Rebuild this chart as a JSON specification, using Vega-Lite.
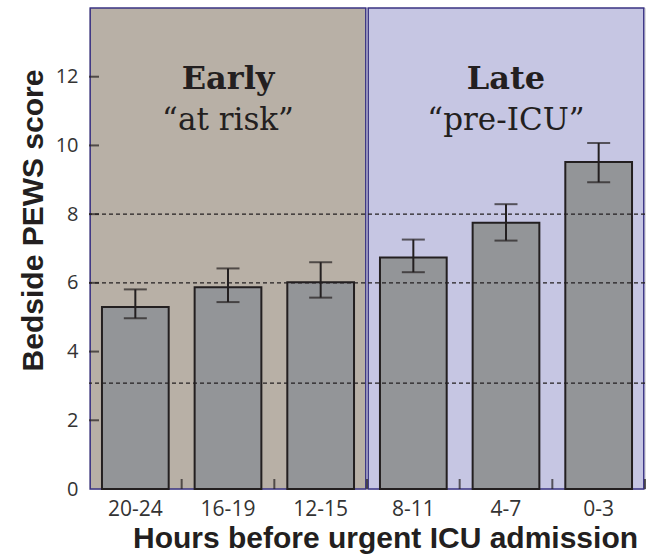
{
  "$schema": "https://vega.github.io/schema/vega-lite/v6.json",
  "width": 556,
  "height": 481,
  "autosize": {"type": "none"},
  "padding": {"left": 89, "top": 8, "right": 2, "bottom": 67},
  "background": "white",
  "datasets": {
    "regions": [
      {"region": "Early", "sub": "“at risk”", "start": 0, "end": 3, "mid": 1.5},
      {"region": "Late", "sub": "“pre-ICU”", "start": 3, "end": 6, "mid": 4.5}
    ],
    "scores": [
      {"hours": "20-24", "score": 5.30, "lo": 4.97, "hi": 5.81},
      {"hours": "16-19", "score": 5.87, "lo": 5.44, "hi": 6.42},
      {"hours": "12-15", "score": 6.02, "lo": 5.57, "hi": 6.60},
      {"hours": "8-11", "score": 6.74, "lo": 6.31, "hi": 7.26},
      {"hours": "4-7", "score": 7.75, "lo": 7.23, "hi": 8.29},
      {"hours": "0-3", "score": 9.52, "lo": 8.93, "hi": 10.07}
    ],
    "refs": [{"level": 8}, {"level": 6}, {"level": 3.08}],
    "yticks": [{"score": 2}, {"score": 4}, {"score": 6}, {"score": 8}, {"score": 10}, {"score": 12}],
    "xticks": [{"edge": 1}, {"edge": 2}, {"edge": 3}, {"edge": 4}, {"edge": 5}, {"edge": 6}]
  },
  "resolve": {"scale": {"x": "independent"}},
  "layer": [
    {
      "data": {"name": "regions"},
      "mark": {"type": "rect", "stroke": "#3a3383", "strokeWidth": 1.5, "xOffset": 1.2, "x2Offset": -1.2},
      "encoding": {
        "x": {"field": "start", "type": "quantitative", "scale": {"domain": [0, 6], "nice": false, "zero": false}, "axis": null},
        "x2": {"field": "end"},
        "y": {"datum": 0, "type": "quantitative", "scale": {"domain": [0, 14], "nice": false}},
        "y2": {"datum": 14},
        "fill": {"field": "region", "type": "nominal", "scale": {"domain": ["Early", "Late"], "range": ["#b8b0a6", "#c6c6e3"]}, "legend": null}
      }
    },
    {
      "data": {"name": "yticks"},
      "mark": {"type": "tick", "orient": "horizontal", "size": 10, "thickness": 2, "color": "#231f20", "xOffset": 5},
      "encoding": {
        "x": {"datum": 0, "type": "quantitative", "scale": {"domain": [0, 6], "nice": false, "zero": false}, "axis": null},
        "y": {"field": "score", "type": "quantitative"}
      }
    },
    {
      "data": {"name": "xticks"},
      "mark": {"type": "tick", "orient": "vertical", "size": 10, "thickness": 2, "color": "#231f20", "yOffset": -5},
      "encoding": {
        "x": {"field": "edge", "type": "quantitative", "scale": {"domain": [0, 6], "nice": false, "zero": false}, "axis": null},
        "y": {"datum": 0, "type": "quantitative"}
      }
    },
    {
      "mark": {"type": "rule", "stroke": "#231f20", "strokeWidth": 2},
      "encoding": {
        "x": {"datum": 0, "type": "quantitative", "scale": {"domain": [0, 6], "nice": false, "zero": false}, "axis": null}
      }
    },
    {
      "data": {"name": "regions"},
      "mark": {"type": "text", "font": "DejaVu Serif", "fontWeight": "bold", "fontSize": 32, "color": "#231f20", "baseline": "alphabetic", "align": "center"},
      "encoding": {
        "x": {"field": "mid", "type": "quantitative", "scale": {"domain": [0, 6], "nice": false, "zero": false}, "axis": null},
        "y": {"datum": 11.65, "type": "quantitative"},
        "text": {"field": "region"}
      }
    },
    {
      "data": {"name": "regions"},
      "mark": {"type": "text", "font": "DejaVu Serif", "fontSize": 31, "color": "#231f20", "baseline": "alphabetic", "align": "center"},
      "encoding": {
        "x": {"field": "mid", "type": "quantitative", "scale": {"domain": [0, 6], "nice": false, "zero": false}, "axis": null},
        "y": {"datum": 10.45, "type": "quantitative"},
        "text": {"field": "sub"}
      }
    },
    {
      "layer": [
        {
          "data": {"name": "scores"},
          "mark": {"type": "bar", "fill": "#939598", "stroke": "#231f20", "strokeWidth": 2},
          "encoding": {
            "x": {
              "field": "hours", "type": "nominal",
              "scale": {"domain": ["20-24", "16-19", "12-15", "8-11", "4-7", "0-3"], "paddingInner": 0.28, "paddingOuter": 0.14},
              "axis": {
                "orient": "bottom",
                "title": "Hours before urgent ICU admission",
                "titleFont": "Liberation Sans", "titleFontWeight": "bold", "titleFontSize": 30, "titleColor": "#231f20",
                "titleBaseline": "alphabetic", "titleX": 296, "titleY": 58, "titleAnchor": "middle", "titleAlign": "center",
                "labelFont": "Open Sans", "labelFontSize": 21, "labelColor": "#333333", "labelAngle": 0,
                "labelBaseline": "alphabetic", "labelPadding": 26,
                "domain": false, "ticks": false, "tickSize": 0
              }
            },
            "y": {
              "field": "score", "type": "quantitative",
              "scale": {"domain": [0, 14], "nice": false},
              "axis": {
                "orient": "left",
                "title": "Bedside PEWS score", "values": [0, 2, 4, 6, 8, 10, 12],
                "titleFont": "Liberation Sans", "titleFontWeight": "bold", "titleFontSize": 30, "titleColor": "#231f20",
                "titleBaseline": "alphabetic", "titleX": -47, "titleY": 212, "titleAngle": -90, "titleAlign": "center",
                "labelFont": "Open Sans", "labelFontSize": 20, "labelColor": "#333333", "labelPadding": 11,
                "domain": false, "ticks": false, "tickSize": 0, "grid": false
              }
            }
          }
        },
        {
          "data": {"name": "scores"},
          "mark": {"type": "rule", "stroke": "#231f20", "strokeWidth": 2},
          "encoding": {
            "x": {"field": "hours", "type": "nominal"},
            "y": {"field": "lo", "type": "quantitative"},
            "y2": {"field": "hi"}
          }
        },
        {
          "data": {"name": "scores"},
          "mark": {"type": "tick", "orient": "horizontal", "size": 23, "thickness": 2, "color": "#231f20"},
          "encoding": {
            "x": {"field": "hours", "type": "nominal"},
            "y": {"field": "lo", "type": "quantitative"}
          }
        },
        {
          "data": {"name": "scores"},
          "mark": {"type": "tick", "orient": "horizontal", "size": 23, "thickness": 2, "color": "#231f20"},
          "encoding": {
            "x": {"field": "hours", "type": "nominal"},
            "y": {"field": "hi", "type": "quantitative"}
          }
        },
        {
          "data": {"name": "refs"},
          "mark": {"type": "rule", "stroke": "#231f20", "strokeWidth": 1.2, "strokeDash": [4, 3]},
          "encoding": {
            "y": {"field": "level", "type": "quantitative"}
          }
        },
        {
          "mark": {"type": "rule", "stroke": "#231f20", "strokeWidth": 2},
          "encoding": {
            "y": {"datum": 0, "type": "quantitative"}
          }
        }
      ]
    }
  ]
}
